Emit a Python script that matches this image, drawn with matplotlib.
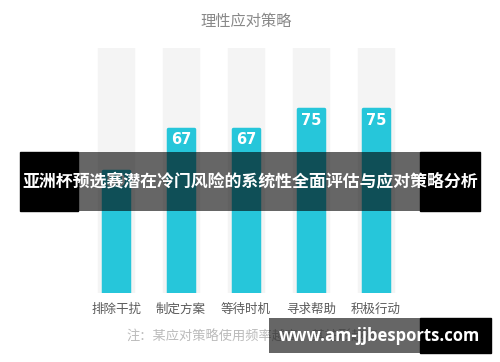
import matplotlib
matplotlib.use('Agg')
import matplotlib.pyplot as plt
from matplotlib.patches import Rectangle

plt.rcParams['font.family'] = ['Noto Sans CJK SC', 'DejaVu Sans']

# chart data
title = '理性应对策略'
categories = ['排除干扰', '制定方案', '等待时机', '寻求帮助', '积极行动']
values = [50, 67, 67, 75, 75]
max_value = 100
note = '注：某应对策略使用频率越高，其柱形越高'
banner_text = '亚洲杯预选赛潜在冷门风险的系统性全面评估与应对策略分析'
watermark = 'www.am-jjbesports.com'

W, H = 500, 362
fig = plt.figure(figsize=(W / 100, H / 100), dpi=100)
fig.patch.set_facecolor('white')

# axes placed so 0 -> y=293px, 100 -> y=48px (from top)
ax = fig.add_axes([83.5 / W, 69 / H, 325 / W, 245 / H])
ax.set_xlim(-0.5, len(categories) - 0.5)
ax.set_ylim(0, max_value)
ax.axis('off')

x = list(range(len(categories)))
ax.bar(x, [max_value] * len(x), width=0.52, color='#f4f4f4',
       edgecolor='#f4f4f4', linewidth=2.5, joinstyle='round', zorder=1)
ax.bar(x, values, width=0.40, color='#26c6da',
       edgecolor='#26c6da', linewidth=2.5, joinstyle='round', zorder=2)

for xi, v in zip(x, values):
    ax.annotate(str(v), (xi, v), xytext=(0, -8), textcoords='offset points',
                ha='center', va='center', color='white', fontsize=10.5,
                fontweight='bold', family=['DejaVu Sans'], zorder=3)

for xi, c in zip(x, categories):
    ax.annotate(c, (xi, 0), xytext=(0, -12), textcoords='offset points',
                ha='center', va='center', color='#5a5a5a', fontsize=9)

fig.text(246 / W, 1 - 21 / H, title, ha='center', va='center',
         color='#888888', fontsize=11)
fig.text(126 / W, 1 - 337 / H, note, ha='left', va='center',
         color='#bbbbbb', fontsize=9.5)

# overlay banner across the middle
fig.patches.append(Rectangle((20 / W, 1 - 211 / H), 58 / W, 59 / H,
                             transform=fig.transFigure, color='black', zorder=5))
fig.patches.append(Rectangle((420 / W, 1 - 211 / H), 60 / W, 59 / H,
                             transform=fig.transFigure, color='black', zorder=5))
fig.patches.append(Rectangle((78 / W, 1 - 211 / H), 342 / W, 59 / H,
                             transform=fig.transFigure, color='black',
                             alpha=0.6, lw=0, zorder=5))
fig.text(250 / W, 1 - 182 / H, banner_text, ha='center', va='center',
         color='white', fontsize=12.2, fontweight='bold', zorder=6)

# watermark box at bottom right
fig.patches.append(Rectangle((269 / W, 1 - 353 / H), 151 / W, 35 / H,
                             transform=fig.transFigure, color='black',
                             alpha=0.6, lw=0, zorder=5))
fig.patches.append(Rectangle((420 / W, 1 - 353 / H), 71 / W, 35 / H,
                             transform=fig.transFigure, color='black', zorder=5))
fig.text(379 / W, 1 - 336 / H, watermark, ha='center', va='center',
         color='white', fontsize=12, fontweight='bold',
         family=['Open Sans', 'DejaVu Sans'], zorder=6)

fig.savefig('out.png', dpi=100)
